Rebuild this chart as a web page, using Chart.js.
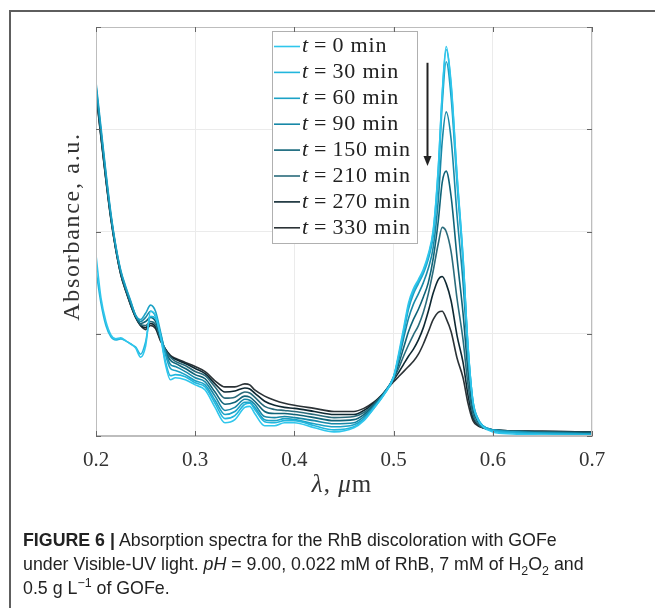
<!DOCTYPE html>
<html lang="en">
<head>
<meta charset="UTF-8">
<title>Absorption spectra</title>
<script src="https://cdn.jsdelivr.net/npm/chart.js"></script>
<style>
    body { margin: 0; background: #fff; width: 655px; height: 608px; overflow: hidden; position: relative; }
    .frame { position: absolute; left: 9px; top: 10px; right: 0; bottom: 0; border-top: 2px solid #5e5e5e; border-left: 2px solid #5e5e5e; }
    #grafico { position: absolute; left: 0; top: 0; }
    .caption {
        position: absolute; left: 23px; top: 528px;
        font-family: 'Liberation Sans', Arial, sans-serif;
        font-size: 17.8px; line-height: 24px; color: #222;
    }
    .caption sub, .caption sup { font-size: 0.7em; line-height: 0; }
</style>
</head>
<body>
<div class="frame"></div>
<canvas id="grafico" width="655" height="608"></canvas>
<div class="caption">
    <b>FIGURE 6 |</b> Absorption spectra for the RhB discoloration with GOFe<br>
    under Visible-UV light. <i>pH</i> = 9.00, 0.022 mM of RhB, 7 mM of H<sub>2</sub>O<sub>2</sub> and<br>
    0.5 g L<sup>−1</sup> of GOFe.
</div>

<script>
    // longitud de onda (µm)
    const lambda = [0.200, 0.205, 0.210, 0.215, 0.220, 0.225, 0.230, 0.235, 0.240, 0.245,
        0.250, 0.255, 0.260, 0.265, 0.270, 0.275, 0.280, 0.290, 0.300, 0.310,
        0.320, 0.330, 0.340, 0.350, 0.355, 0.360, 0.370, 0.380, 0.390, 0.400,
        0.420, 0.440, 0.460, 0.470, 0.480, 0.490, 0.500, 0.505, 0.510, 0.515,
        0.520, 0.525, 0.530, 0.535, 0.540, 0.545, 0.549, 0.553, 0.558, 0.564,
        0.570, 0.575, 0.580, 0.585, 0.590, 0.600, 0.620, 0.650, 0.700];

    const etiquetas = ['0', '30', '60', '90', '150', '210', '270', '330'];
    const colores = ['#2fc6ec', '#22b6dd', '#1ca2c6', '#1788a7', '#0f6378', '#2a6b7b', '#0e2832', '#2b3236'];

    const t0 = [1.77, 1.35, 1.12, 0.99, 0.95, 0.96, 0.93, 0.90, 0.86, 0.77,
        0.88, 1.22, 1.18, 0.98, 0.70, 0.55, 0.57, 0.55, 0.50, 0.45,
        0.28, 0.13, 0.16, 0.28, 0.29, 0.22, 0.10, 0.10, 0.13, 0.13,
        0.08, 0.04, 0.08, 0.15, 0.27, 0.40, 0.58, 0.80, 1.05, 1.30,
        1.44, 1.53, 1.63, 1.78, 2.02, 2.62, 3.35, 3.81, 3.45, 2.55,
        1.75, 0.88, 0.33, 0.16, 0.09, 0.04, 0.02, 0.01, 0.00];
    const t30 = [1.62, 1.30, 1.08, 0.97, 0.94, 0.95, 0.93, 0.90, 0.87, 0.80,
        0.92, 1.17, 1.15, 0.98, 0.73, 0.59, 0.60, 0.58, 0.52, 0.48,
        0.32, 0.17, 0.20, 0.31, 0.32, 0.26, 0.14, 0.13, 0.15, 0.15,
        0.10, 0.06, 0.09, 0.16, 0.27, 0.40, 0.57, 0.78, 1.02, 1.27,
        1.42, 1.51, 1.61, 1.76, 2.00, 2.60, 3.33, 3.78, 3.42, 2.53,
        1.74, 0.88, 0.34, 0.17, 0.10, 0.05, 0.03, 0.02, 0.01];
    const t60 = [3.46, 3.02, 2.58, 2.18, 1.86, 1.62, 1.46, 1.32, 1.18, 1.14,
        1.20, 1.28, 1.22, 1.02, 0.80, 0.66, 0.64, 0.60, 0.54, 0.50,
        0.35, 0.21, 0.24, 0.33, 0.33, 0.28, 0.16, 0.15, 0.17, 0.16,
        0.12, 0.09, 0.11, 0.17, 0.28, 0.41, 0.58, 0.77, 1.00, 1.24,
        1.39, 1.49, 1.59, 1.73, 1.96, 2.52, 3.24, 3.66, 3.31, 2.46,
        1.70, 0.86, 0.34, 0.17, 0.10, 0.06, 0.04, 0.03, 0.02];
    const t90 = [3.43, 2.99, 2.56, 2.16, 1.85, 1.61, 1.45, 1.31, 1.18, 1.12,
        1.16, 1.22, 1.17, 1.00, 0.82, 0.70, 0.68, 0.63, 0.57, 0.53,
        0.39, 0.25, 0.28, 0.36, 0.35, 0.31, 0.19, 0.18, 0.19, 0.18,
        0.15, 0.12, 0.13, 0.19, 0.29, 0.41, 0.58, 0.74, 0.95, 1.15,
        1.29, 1.39, 1.50, 1.64, 1.85, 2.30, 2.88, 3.17, 2.90, 2.15,
        1.50, 0.78, 0.31, 0.16, 0.10, 0.06, 0.04, 0.03, 0.02];
    const t150 = [3.41, 2.97, 2.54, 2.15, 1.84, 1.60, 1.44, 1.30, 1.17, 1.10,
        1.12, 1.16, 1.12, 0.97, 0.83, 0.74, 0.71, 0.66, 0.60, 0.56,
        0.43, 0.31, 0.33, 0.39, 0.38, 0.34, 0.24, 0.22, 0.22, 0.21,
        0.18, 0.15, 0.16, 0.21, 0.30, 0.41, 0.57, 0.70, 0.86, 1.02,
        1.14, 1.24, 1.36, 1.50, 1.74, 2.10, 2.48, 2.59, 2.34, 1.74,
        1.20, 0.63, 0.26, 0.14, 0.09, 0.06, 0.045, 0.035, 0.03];
    const t210 = [3.39, 2.95, 2.52, 2.14, 1.83, 1.59, 1.43, 1.29, 1.17, 1.09,
        1.08, 1.12, 1.09, 0.95, 0.84, 0.77, 0.73, 0.69, 0.63, 0.59,
        0.48, 0.37, 0.38, 0.43, 0.42, 0.38, 0.29, 0.26, 0.25, 0.24,
        0.21, 0.18, 0.19, 0.23, 0.31, 0.42, 0.56, 0.66, 0.78, 0.89,
        0.99, 1.08, 1.21, 1.39, 1.62, 1.88, 2.04, 2.00, 1.80, 1.34,
        0.94, 0.50, 0.21, 0.12, 0.08, 0.06, 0.05, 0.04, 0.035];
    const t270 = [3.37, 2.93, 2.51, 2.13, 1.82, 1.58, 1.42, 1.28, 1.16, 1.08,
        1.06, 1.10, 1.07, 0.94, 0.85, 0.78, 0.75, 0.71, 0.66, 0.61,
        0.51, 0.43, 0.44, 0.47, 0.46, 0.42, 0.34, 0.30, 0.28, 0.27,
        0.24, 0.21, 0.21, 0.25, 0.32, 0.42, 0.55, 0.62, 0.70, 0.78,
        0.85, 0.94, 1.06, 1.22, 1.40, 1.53, 1.56, 1.49, 1.32, 0.98,
        0.72, 0.40, 0.18, 0.11, 0.08, 0.06, 0.05, 0.045, 0.04];
    const t330 = [3.35, 2.92, 2.50, 2.12, 1.82, 1.58, 1.42, 1.28, 1.16, 1.08,
        1.04, 1.08, 1.05, 0.93, 0.85, 0.79, 0.76, 0.72, 0.68, 0.63,
        0.54, 0.48, 0.48, 0.51, 0.50, 0.45, 0.39, 0.35, 0.32, 0.30,
        0.27, 0.24, 0.24, 0.27, 0.33, 0.42, 0.53, 0.58, 0.63, 0.68,
        0.73, 0.80, 0.90, 1.02, 1.14, 1.21, 1.22, 1.15, 1.02, 0.76,
        0.57, 0.32, 0.15, 0.10, 0.08, 0.06, 0.05, 0.045, 0.04];

    const series = [t0, t30, t60, t90, t150, t210, t270, t330];
    const xTicks = [0.2, 0.3, 0.4, 0.5, 0.6, 0.7];
    const yTicks = [0, 1, 2, 3, 4];

    const serif = "'Liberation Serif', 'DejaVu Serif', serif";

    // marco, ticks hacia dentro
    const marco = {
        id: 'marco',
        afterDraw(chart) {
            const { ctx, chartArea: a, scales } = chart;
            ctx.save();
            ctx.strokeStyle = '#bdbdbd';
            ctx.lineWidth = 1;
            ctx.strokeRect(a.left + 0.5, a.top + 0.5, a.right - a.left - 1, a.bottom - a.top - 1);
            ctx.strokeStyle = '#666';
            ctx.beginPath();
            xTicks.forEach(v => {
                const px = Math.round(scales.x.getPixelForValue(v)) + 0.5;
                ctx.moveTo(px, a.bottom); ctx.lineTo(px, a.bottom - 5);
                ctx.moveTo(px, a.top); ctx.lineTo(px, a.top + 5);
            });
            yTicks.forEach(v => {
                const py = Math.round(scales.y.getPixelForValue(v)) + 0.5;
                ctx.moveTo(a.left, py); ctx.lineTo(a.left + 5, py);
                ctx.moveTo(a.right, py); ctx.lineTo(a.right - 5, py);
            });
            ctx.stroke();

            // títulos de los ejes
            ctx.fillStyle = '#333';
            ctx.textBaseline = 'alphabetic';
            ctx.letterSpacing = '1px';
            const partes = [['λ', true], [', ', false], ['μ', true], ['m', false]];
            const fuente = it => (it ? 'italic ' : '') + '25px ' + serif;
            let ancho = 0;
            partes.forEach(([s, it]) => { ctx.font = fuente(it); ancho += ctx.measureText(s).width; });
            let x = (a.left + a.right) / 2 - ancho / 2 - 2;
            partes.forEach(([s, it]) => {
                ctx.font = fuente(it);
                ctx.fillText(s, x, 492);
                x += ctx.measureText(s).width;
            });

            ctx.translate(73, (a.top + a.bottom) / 2 - 5);
            ctx.rotate(-Math.PI / 2);
            ctx.font = '24px ' + serif;
            ctx.letterSpacing = '1.7px';
            ctx.textAlign = 'center';
            ctx.textBaseline = 'middle';
            ctx.fillText('Absorbance, a.u.', 0, 0);
            ctx.restore();
        }
    };

    // leyenda y flecha
    const leyenda = {
        id: 'leyenda',
        afterDatasetsDraw(chart) {
            const { ctx } = chart;
            ctx.save();
            ctx.fillStyle = '#fff';
            ctx.fillRect(272, 31, 145, 212);
            ctx.strokeStyle = '#b0b0b0';
            ctx.lineWidth = 1;
            ctx.strokeRect(272.5, 31.5, 145, 212);
            ctx.textBaseline = 'middle';
            etiquetas.forEach((e, i) => {
                const y = 46.5 + i * 25.9;
                ctx.strokeStyle = colores[i];
                ctx.lineWidth = 1.6;
                ctx.beginPath();
                ctx.moveTo(274, y); ctx.lineTo(300, y);
                ctx.stroke();
                ctx.fillStyle = '#222';
                let x = 302;
                ctx.font = 'italic 22px ' + serif;
                ctx.fillText('t', x, y);
                x += ctx.measureText('t').width + 6;
                ctx.font = '22px ' + serif;
                ctx.fillText('=', x, y);
                x += ctx.measureText('=').width + 6;
                ctx.letterSpacing = '0.8px';
                ctx.fillText(e + ' min', x, y);
                ctx.letterSpacing = '0px';
            });

            const { x: sx, y: sy } = chart.scales;
            const ax = Math.round(sx.getPixelForValue(0.534)) + 0.5;
            const y1 = sy.getPixelForValue(3.65), y2 = sy.getPixelForValue(2.64);
            ctx.strokeStyle = '#222';
            ctx.fillStyle = '#222';
            ctx.lineWidth = 2;
            ctx.beginPath();
            ctx.moveTo(ax, y1); ctx.lineTo(ax, y2 - 8);
            ctx.stroke();
            ctx.beginPath();
            ctx.moveTo(ax - 4, y2 - 10); ctx.lineTo(ax + 4, y2 - 10); ctx.lineTo(ax, y2);
            ctx.closePath();
            ctx.fill();
            ctx.restore();
        }
    };

    const datasets = series.map((s, i) => ({
        label: 't = ' + etiquetas[i] + ' min',
        data: lambda.map((l, j) => ({ x: l, y: s[j] })),
        borderColor: colores[i],
        borderWidth: 1.6,
        pointRadius: 0,
        cubicInterpolationMode: 'monotone',
        fill: false
    }));

    new Chart(document.getElementById('grafico'), {
        type: 'line',
        data: { datasets },
        options: {
            responsive: false,
            animation: false,
            layout: { padding: { top: 27, right: 63, left: 0, bottom: 0 } },
            plugins: { legend: { display: false }, tooltip: { enabled: false } },
            scales: {
                x: {
                    type: 'linear', min: 0.2, max: 0.7,
                    afterBuildTicks: s => { s.ticks = xTicks.map(v => ({ value: v })); },
                    afterFit: s => { s.height = 172; },
                    ticks: {
                        callback: v => v.toFixed(1),
                        font: { family: serif, size: 21 },
                        color: '#333', padding: 12, maxRotation: 0
                    },
                    grid: { color: '#ebebeb', drawTicks: false },
                    border: { color: '#bdbdbd' }
                },
                y: {
                    min: 0, max: 4,
                    afterBuildTicks: s => { s.ticks = yTicks.map(v => ({ value: v })); },
                    afterFit: s => { s.width = 96; },
                    ticks: { display: false },
                    grid: { color: '#ebebeb', drawTicks: false },
                    border: { color: '#bdbdbd' }
                }
            }
        },
        plugins: [marco, leyenda]
    });
</script>
</body>
</html>
